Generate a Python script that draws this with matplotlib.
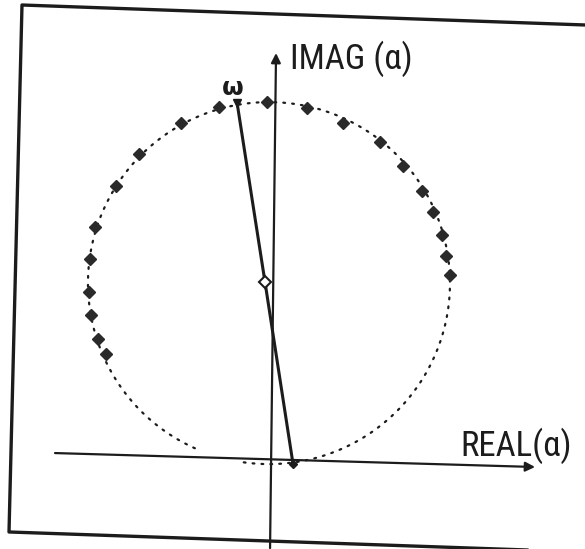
import matplotlib.pyplot as plt
from matplotlib.patches import Arc

# points on the locus, real and imaginary parts
re_right = [-0.028, 0.193, 0.392, 0.597, 0.724, 0.829, 0.890, 0.939, 0.961, 0.983]
im_right = [1.983, 1.950, 1.867, 1.762, 1.630, 1.492, 1.376, 1.249, 1.133, 1.028]
re_left = [-0.293, -0.503, -0.735, -0.862, -0.978, -1.006, -1.011, -1.000, -0.961, -0.917]
im_left = [1.956, 1.867, 1.696, 1.519, 1.293, 1.116, 0.934, 0.807, 0.674, 0.591]

# the radius line from the origin side up to the omega point
line_re = [0.116, -0.039, -0.193]
line_im = [-0.017, 0.989, 1.978]

circle_center = (-0.017, 0.983)
circle_radius = 1.0

ink = '#1c1c1c'

fig = plt.figure(figsize=(5.85, 5.49), dpi=100)
ax = fig.add_axes([0, 0, 1, 1])
ax.set_xlim(-1.503, 1.729)
ax.set_ylim(-0.486, 2.547)
ax.axis('off')

# outer frame
fx = [1.0, 0.0376, 0.0154, 1.0]
fy = [0.9545, 0.9909, 0.031, -0.0055]
ax.plot(fx, fy, color=ink, lw=2.4, transform=ax.transAxes, solid_joinstyle='round')

# dotted circle, open at the lower left
ax.add_patch(Arc(circle_center, 2 * circle_radius, 2 * circle_radius,
                 theta1=262, theta2=606, color=ink, lw=1.6,
                 linestyle=(0, (0.8, 3.2)), capstyle='round'))

# axes with arrow heads
arrow = dict(arrowstyle='-|>', color=ink, lw=1.6, mutation_scale=14, shrinkA=0, shrinkB=0)
ax.annotate('', xy=(1.453, -0.033), xytext=(-1.199, 0.044), arrowprops=arrow)
ax.annotate('', xy=(0.022, 2.254), xytext=(-0.011, -0.481), arrowprops=arrow)

# radius line
ax.plot(line_re, line_im, color=ink, lw=2.2, solid_capstyle='round')
ax.plot(line_re[2], line_im[2], marker='v', ms=6, color=ink)
ax.plot(line_re[1], line_im[1], marker='D', ms=6, mfc='white', mec=ink, mew=1.5)
ax.plot(line_re[0], line_im[0], marker='D', ms=4, color=ink)

# locus markers
ax.plot(re_right, im_right, ls='none', marker='D', ms=6.5, color='#2a2a2a')
ax.plot(re_left, im_left, ls='none', marker='D', ms=6.5, color='#2a2a2a')

fam = ['Roboto Condensed', 'DejaVu Sans']
ax.text(0.099, 2.221, 'IMAG (α)', fontsize=25, family=fam, color=ink,
        ha='left', va='center')
ax.text(1.039, 0.083, 'REAL(α)', fontsize=25, family=fam, color=ink,
        ha='left', va='center')
ax.text(-0.215, 2.06, 'ω', fontsize=18, fontweight='bold', color=ink,
        ha='center', va='center')

fig.savefig('out.png', dpi=100)
